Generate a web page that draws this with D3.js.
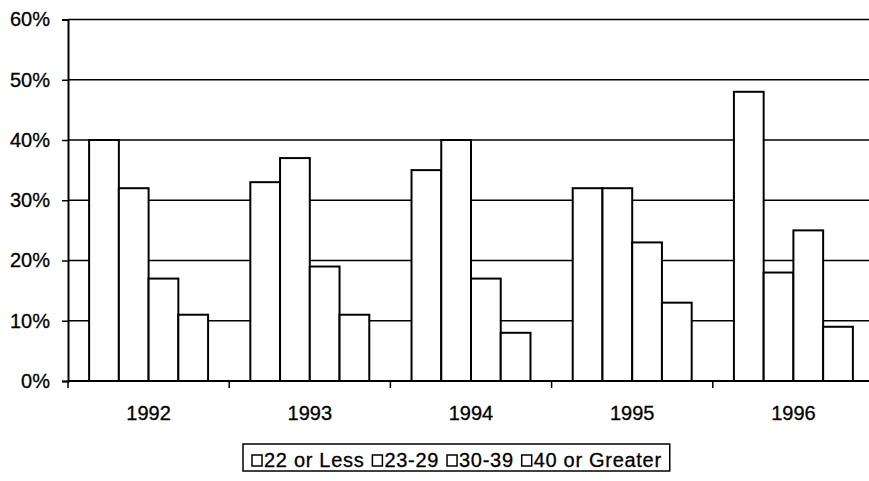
<!DOCTYPE html>
<html>
<head>
<meta charset="utf-8">
<script src="https://cdnjs.cloudflare.com/ajax/libs/d3/7.8.5/d3.min.js"></script>
<style>
  body { margin: 0; background: #fff; }
  svg { display: block; }
  text { font-family: "Liberation Sans", Arial, sans-serif; fill: #000; }
</style>
</head>
<body>
<svg width="869" height="481"></svg>
<script>
// values
var years = ["1992", "1993", "1994", "1995", "1996"];
var groups = ["22 or Less", "23-29", "30-39", "40 or Greater"];
var lessThan22 = [0.40, 0.33, 0.35, 0.32, 0.48];
var from23to29 = [0.32, 0.37, 0.40, 0.32, 0.18];
var from30to39 = [0.17, 0.19, 0.17, 0.23, 0.25];
var over40 = [0.11, 0.11, 0.08, 0.13, 0.09];
var yTicks = [0, 0.1, 0.2, 0.3, 0.4, 0.5, 0.6];

var series = [lessThan22, from23to29, from30to39, over40];

var svg = d3.select("svg");

var plotLeft = 68, plotRight = 874, plotTop = 19.5, plotBottom = 381;

var x0 = d3.scaleBand()
    .domain(years)
    .range([plotLeft, plotRight])
    .padding(0);

var x1 = d3.scaleBand()
    .domain(groups)
    .range([0, x0.bandwidth()])
    .paddingInner(0)
    .paddingOuter(0.71);

var y = d3.scaleLinear()
    .domain([0, 0.6])
    .range([plotBottom, plotTop]);

// gridlines
svg.append("g")
    .selectAll("line")
    .data(yTicks.filter(function(d) { return d > 0; }))
    .enter().append("line")
    .attr("x1", plotLeft)
    .attr("x2", plotRight)
    .attr("y1", function(d) { return y(d); })
    .attr("y2", function(d) { return y(d); })
    .attr("stroke", "#000")
    .attr("stroke-width", 1.5);

// bars
var rows = [];
years.forEach(function(yr, i) {
    groups.forEach(function(g, j) {
        rows.push({year: yr, group: g, value: series[j][i]});
    });
});

svg.append("g")
    .selectAll("rect")
    .data(rows)
    .enter().append("rect")
    .attr("x", function(d) { return x0(d.year) + x1(d.group); })
    .attr("y", function(d) { return y(d.value); })
    .attr("width", x1.bandwidth())
    .attr("height", function(d) { return y(0) - y(d.value); })
    .attr("fill", "#fff")
    .attr("stroke", "#000")
    .attr("stroke-width", 2);

// y axis
var yAxis = d3.axisLeft(y)
    .tickValues(yTicks)
    .tickSize(6)
    .tickPadding(12)
    .tickFormat(d3.format(".0%"));

var gy = svg.append("g")
    .attr("transform", "translate(" + plotLeft + ",0)")
    .call(yAxis);
gy.select(".domain").attr("stroke-width", 2);
gy.selectAll(".tick line").attr("stroke-width", 1.5);
gy.selectAll("text")
    .attr("font-size", 20)
    .attr("font-family", null)
    .attr("stroke", "#000")
    .attr("stroke-width", 0.3);

// x axis: ticks at category boundaries
var gx = svg.append("g")
    .attr("transform", "translate(0," + plotBottom + ")");

gx.append("line")
    .attr("x1", plotLeft)
    .attr("x2", plotRight)
    .attr("stroke", "#000")
    .attr("stroke-width", 2);

gx.selectAll(".sep")
    .data(years)
    .enter().append("line")
    .attr("class", "sep")
    .attr("x1", function(d) { return x0(d); })
    .attr("x2", function(d) { return x0(d); })
    .attr("y1", 0)
    .attr("y2", 7)
    .attr("stroke", "#000")
    .attr("stroke-width", 1.5);

gx.selectAll(".lbl")
    .data(years)
    .enter().append("text")
    .attr("class", "lbl")
    .attr("x", function(d) { return x0(d) + x0.bandwidth() / 2; })
    .attr("y", 39)
    .attr("text-anchor", "middle")
    .attr("font-size", 20)
    .attr("stroke", "#000")
    .attr("stroke-width", 0.3)
    .text(function(d) { return d; });

// legend
var legend = svg.append("g");
var box = legend.append("rect")
    .attr("fill", "#fff")
    .attr("stroke", "#000")
    .attr("stroke-width", 1.5);

var cx = 252;
groups.forEach(function(g) {
    legend.append("rect")
        .attr("x", cx)
        .attr("y", 455)
        .attr("width", 10)
        .attr("height", 11)
        .attr("fill", "#fff")
        .attr("stroke", "#000")
        .attr("stroke-width", 1.5);
    var t = legend.append("text")
        .attr("x", cx + 12)
        .attr("y", 467)
        .attr("font-size", 20)
        .attr("letter-spacing", 0.7)
        .attr("stroke", "#000")
        .attr("stroke-width", 0.3)
        .text(g);
    cx += 12 + t.node().getComputedTextLength() + 8;
});

box.attr("x", 243)
    .attr("y", 444)
    .attr("width", cx - 243)
    .attr("height", 27);
</script>
</body>
</html>
